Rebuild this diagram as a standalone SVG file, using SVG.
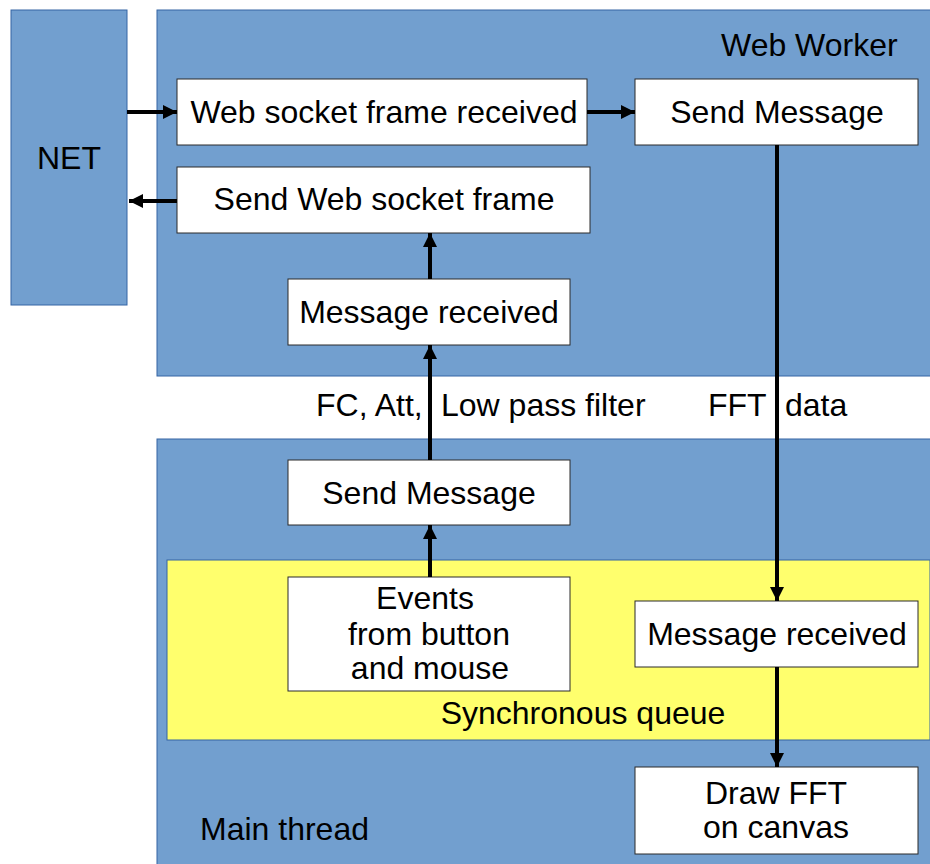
<svg xmlns="http://www.w3.org/2000/svg" width="930" height="864" viewBox="0 0 930 864">
<style>
.area{fill:#729fcf;stroke:#3465a4;stroke-width:1}
.queue{fill:#ffff6d;stroke:#3465a4;stroke-width:1}
.box{fill:#ffffff;stroke:#2a2a2a;stroke-width:1}
text{font-family:"Liberation Sans",Arial,sans-serif;font-size:32px;fill:#000}
.c{text-anchor:middle}
.conn{stroke:#000;stroke-width:4;fill:none;marker-end:url(#ah)}
</style>
<defs>
<marker id="ah" viewBox="0 0 10 10" refX="10" refY="5" markerUnits="userSpaceOnUse" markerWidth="22" markerHeight="14" orient="auto">
<path d="M0,0 L10,5 L0,10 z" fill="#000"/>
</marker>
</defs>
<rect width="930" height="864" fill="#fff"/>
<g id="net"><rect class="area" x="11" y="10" width="116" height="295"/><text class="c" x="69" y="169">NET</text></g>
<g id="web-worker"><rect class="area" x="157" y="10" width="780" height="366"/><text x="721" y="56">Web Worker</text></g>
<g id="main-thread"><rect class="area" x="157" y="439" width="780" height="430"/><text x="200" y="840">Main thread</text></g>
<g id="sync-queue"><rect class="queue" x="167" y="560" width="763" height="180"/><text class="c" x="583" y="724">Synchronous queue</text></g>
<g id="ws-frame-received"><rect class="box" x="177" y="79" width="410" height="66"/><text class="c" x="384" y="123">Web socket frame received</text></g>
<g id="send-message-ww"><rect class="box" x="635" y="79" width="283" height="66"/><text class="c" x="777" y="123">Send Message</text></g>
<g id="send-ws-frame"><rect class="box" x="177" y="167" width="413" height="66"/><text class="c" x="384" y="210">Send Web socket frame</text></g>
<g id="message-received-ww"><rect class="box" x="288" y="279" width="282" height="66"/><text class="c" x="429" y="323">Message received</text></g>
<g id="send-message-main"><rect class="box" x="288" y="460" width="282" height="65"/><text class="c" x="429" y="504">Send Message</text></g>
<g id="events"><rect class="box" x="288" y="577" width="282" height="114"/><text class="c" x="425" y="609">Events</text><text class="c" x="429" y="645">from button</text><text class="c" x="430" y="679">and mouse</text></g>
<g id="message-received-main"><rect class="box" x="635" y="601" width="283" height="66"/><text class="c" x="777" y="645">Message received</text></g>
<g id="draw-fft"><rect class="box" x="635" y="767" width="283" height="87"/><text class="c" x="776" y="804">Draw FFT</text><text class="c" x="776" y="838">on canvas</text></g>
<g id="labels">
<text x="316" y="416">FC, Att,</text><text x="441" y="416">Low pass filter</text>
<text x="708" y="416">FFT</text><text x="785" y="416">data</text>
</g>
<g id="connectors">
<line class="conn" x1="127" y1="112" x2="177" y2="112"/>
<line class="conn" x1="587" y1="112" x2="635" y2="112"/>
<line class="conn" x1="177" y1="201" x2="129" y2="201"/>
<line class="conn" x1="430" y1="279" x2="430" y2="233"/>
<line class="conn" x1="430" y1="460" x2="430" y2="345"/>
<line class="conn" x1="430" y1="577" x2="430" y2="525"/>
<line class="conn" x1="777" y1="145" x2="777" y2="601"/>
<line class="conn" x1="777" y1="667" x2="777" y2="767"/>
</g>
</svg>
